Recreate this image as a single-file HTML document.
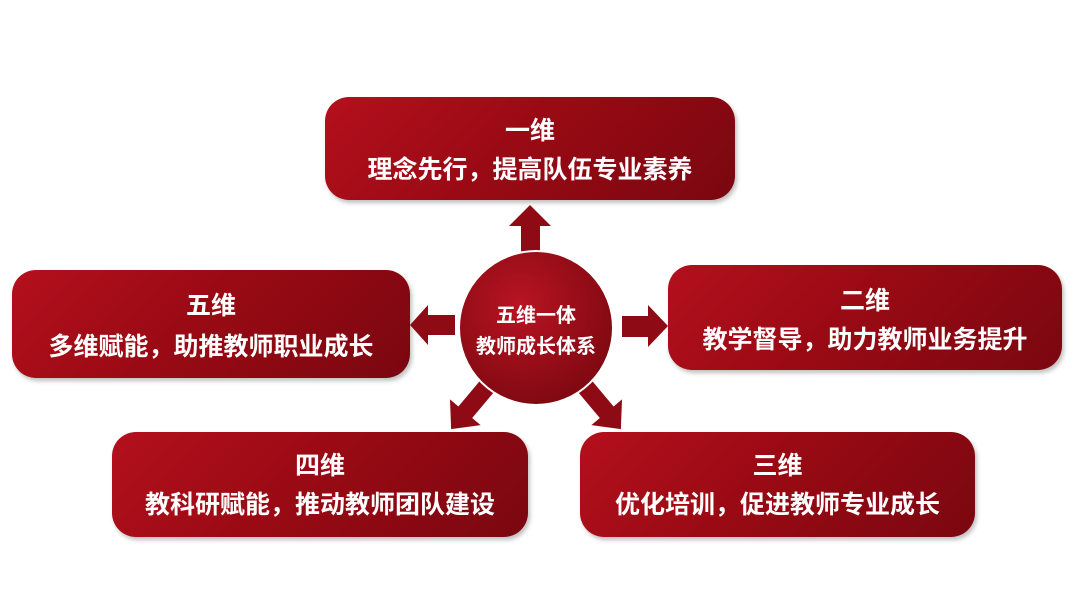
<!DOCTYPE html>
<html><head><meta charset="utf-8"><style>
body{margin:0;width:1080px;height:607px;background:#fff;position:relative;overflow:hidden;font-family:"Liberation Sans","Noto Sans CJK SC",sans-serif}
.b{position:absolute;border-radius:24px;background:linear-gradient(135deg,#b3101c 0%,#9a0a14 45%,#7a0710 100%);color:#fff;font-weight:bold;text-align:center;box-shadow:2px 3px 4px rgba(0,0,0,.25)}
.b div{position:absolute;left:0;right:0;font-size:25px;line-height:1}
</style></head><body>
<div class="b" style="left:325px;top:97px;width:410px;height:103px"><div style="top:22px">一维</div><div style="top:61px">理念先行，提高队伍专业素养</div></div>
<div class="b" style="left:668px;top:265px;width:394px;height:105px"><div style="top:24px">二维</div><div style="top:63px">教学督导，助力教师业务提升</div></div>
<div class="b" style="left:12px;top:270px;width:398px;height:108px"><div style="top:24px">五维</div><div style="top:65px">多维赋能，助推教师职业成长</div></div>
<div class="b" style="left:112px;top:432px;width:416px;height:105px"><div style="top:22px">四维</div><div style="top:61px">教科研赋能，推动教师团队建设</div></div>
<div class="b" style="left:580px;top:432px;width:395px;height:105px"><div style="top:22px">三维</div><div style="top:61px">优化培训，促进教师专业成长</div></div>
<svg width="1080" height="607" style="position:absolute;left:0;top:0">
<defs><radialGradient id="g" cx="40%" cy="35%" r="70%"><stop offset="0" stop-color="#b81422"/><stop offset="1" stop-color="#7d0810"/></radialGradient></defs>
<g fill="#8e0a14">
<polygon points="530,205 551,226 540,226 540,254 521,254 521,226 509,226"/>
<polygon points="410,325 428,305 428,315 455,315 455,335 428,335 428,345"/>
<polygon points="668,326 648,305 648,316 622,316 622,337 648,337 648,347"/>
<g transform="translate(536,328) rotate(130)"><polygon points="0,-9 0,9 48,9 48,20 70,0 48,-20 48,-9" transform="translate(62,0)"/></g>
<g transform="translate(536,328) rotate(50)"><polygon points="0,-9 0,9 48,9 48,20 70,0 48,-20 48,-9" transform="translate(62,0)"/></g>
</g>
<circle cx="536" cy="328" r="77" fill="url(#g)" stroke="#fff" stroke-width="2"/>
<text x="536" y="322" fill="#fff" font-size="20" font-weight="bold" text-anchor="middle" font-family="Liberation Sans, Noto Sans CJK SC, sans-serif">五维一体</text>
<text x="536" y="353" fill="#fff" font-size="20" font-weight="bold" text-anchor="middle" font-family="Liberation Sans, Noto Sans CJK SC, sans-serif">教师成长体系</text>
</svg>
</body></html>
